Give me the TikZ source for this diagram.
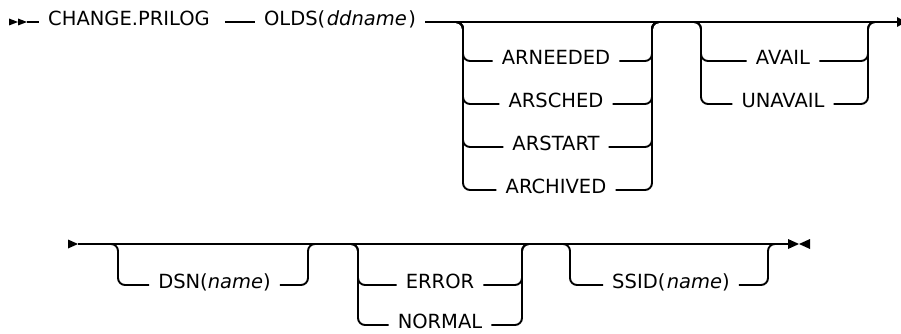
\documentclass[tikz,border=0pt]{standalone}
\usepackage{fontspec}
\setmainfont{DejaVu Sans}
\usetikzlibrary{positioning}

\tikzset{
  rail/.style={line width=1.9pt, rounded corners=7pt},
  kw/.style={inner xsep=9pt, inner ysep=0pt, text height=0.73em, text depth=0pt,
    font=\fontsize{19.5}{20}\selectfont},
  tip/.style={fill=black},
}

\begin{document}
\begin{tikzpicture}[x=1pt,y=-1pt]
    \useasboundingbox (0,0) rectangle (901,334);

    % 第一行: 主线
    \fill[tip] (9,18.5) -- (18,22) -- (9,25.5) -- cycle;
    \fill[tip] (18,18.5) -- (27,22) -- (18,25.5) -- cycle;
    \coordinate (start1) at (27,22);
    \coordinate (end1) at (897,22);
    \node[kw] (prilog) at (129,22) {CHANGE.PRILOG};
    \node[kw] (olds) at (340,22) {OLDS(\hspace{1.5pt}\textit{ddname}\hspace{1.5pt})};
    \draw[rail] (start1) -- (prilog);
    \draw[rail] ([xshift=6pt]prilog.east) -- (olds);
    \draw[rail] (olds) -- (end1);
    \fill[tip] (897,17) -- (906,22) -- (897,27) -- cycle;

    % 第一组选项
    \coordinate (g1in) at (455,22);
    \coordinate (g1out) at (652,22);
    \foreach \n/\t/\y in {arneeded/ARNEEDED/61, arsched/ARSCHED/104,
                          arstart/ARSTART/147, archived/ARCHIVED/190} {
        \node[kw] (\n) at (556,\y) {\t};
        \draw[rail] (g1in) -- ++(8,0) |- (\n.west);
        \draw[rail] (\n.east) -| (g1out) -- ++(8,0);
    }

    % 第二组选项
    \coordinate (g2in) at (693,22);
    \coordinate (g2out) at (868,22);
    \foreach \n/\t/\y in {avail/AVAIL/61, unavail/UNAVAIL/104} {
        \node[kw] (\n) at (783,\y) {\t};
        \draw[rail] (g2in) -- ++(8,0) |- (\n.west);
        \draw[rail] (\n.east) -| (g2out) -- ++(8,0);
    }

    % 第二行: 主线
    \fill[tip] (68,239.5) -- (78,244) -- (68,248.5) -- cycle;
    \coordinate (start2) at (78,244);
    \coordinate (end2) at (788,244);
    \draw[rail] (start2) -- (end2);
    \fill[tip] (788,239) -- (799,244) -- (788,249) -- cycle;
    \fill[tip] (810,239) -- (799,244) -- (810,249) -- cycle;

    % DSN
    \coordinate (g3in) at (110,244);
    \coordinate (g3out) at (308,244);
    \node[kw] (dsn) at (214.5,285) {DSN(\textit{name})};
    \draw[rail] (g3in) -- ++(8,0) |- (dsn.west);
    \draw[rail] (dsn.east) -| (g3out) -- ++(8,0);

    % ERROR / NORMAL
    \coordinate (g4in) at (350,244);
    \coordinate (g4out) at (522,244);
    \foreach \n/\t/\y in {error/ERROR/285, normal/NORMAL/325} {
        \node[kw] (\n) at (440,\y) {\t};
        \draw[rail] (g4in) -- ++(8,0) |- (\n.west);
        \draw[rail] (\n.east) -| (g4out) -- ++(8,0);
    }

    % SSID
    \coordinate (g5in) at (562,244);
    \coordinate (g5out) at (768,244);
    \node[kw] (ssid) at (671,285) {SSID(\hspace{1.5pt}\textit{name})};
    \draw[rail] (g5in) -- ++(8,0) |- (ssid.west);
    \draw[rail] (ssid.east) -| (g5out) -- ++(8,0);

\end{tikzpicture}
\end{document}
